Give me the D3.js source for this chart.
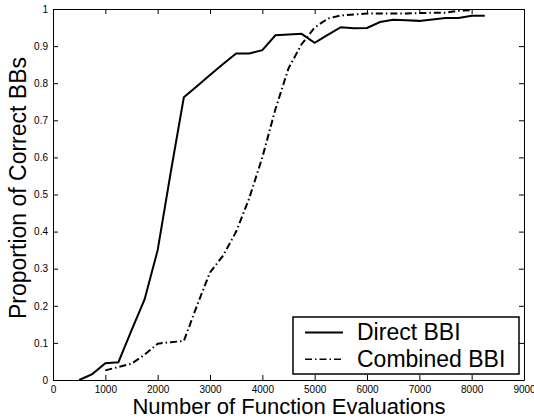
<!DOCTYPE html>
<html>
<head>
<meta charset="utf-8">
<script src="https://cdn.jsdelivr.net/npm/d3@7"></script>
<style>
  body { margin: 0; background: #fff; }
  text { font-family: "Liberation Sans", Arial, Helvetica, sans-serif; fill: #000; }
</style>
</head>
<body>
<div id="graph"></div>
<script>
// x values (function evaluations) and proportions
var directX = [500, 750, 1000, 1250, 1500, 1750, 2000, 2250, 2500, 2750, 3000, 3250, 3500, 3750, 4000, 4250, 4500, 4750, 5000, 5250, 5500, 5750, 6000, 6250, 6500, 6750, 7000, 7250, 7500, 7750, 8000, 8250];
var directY = [0, 0.016, 0.045, 0.048, 0.134, 0.217, 0.35, 0.56, 0.762, 0.792, 0.822, 0.852, 0.88, 0.88, 0.889, 0.929, 0.931, 0.933, 0.909, 0.93, 0.951, 0.948, 0.949, 0.965, 0.971, 0.970, 0.968, 0.972, 0.976, 0.976, 0.982, 0.982];

var combinedX = [1000, 1250, 1500, 1750, 2000, 2250, 2500, 2750, 3000, 3250, 3500, 3750, 4000, 4250, 4500, 4750, 5000, 5250, 5500, 5750, 6000, 6250, 6500, 6750, 7000, 7250, 7500, 7750, 8000];
var combinedY = [0.026, 0.035, 0.044, 0.068, 0.098, 0.102, 0.105, 0.20, 0.29, 0.335, 0.40, 0.49, 0.60, 0.73, 0.84, 0.905, 0.95, 0.974, 0.983, 0.985, 0.988, 0.988, 0.988, 0.988, 0.989, 0.99, 0.99, 0.995, 0.997];

var xTicks = [0, 1000, 2000, 3000, 4000, 5000, 6000, 7000, 8000, 9000];
var yTicks = [0, 0.1, 0.2, 0.3, 0.4, 0.5, 0.6, 0.7, 0.8, 0.9, 1];
var seriesNames = ['Direct BBI', 'Combined BBI'];

var width = 534, height = 420;
var margin = { top: 9, left: 53, bottom: 40, right: 10 };
var chartWidth = width - margin.left - margin.right;
var chartHeight = height - margin.top - margin.bottom;

var svg = d3.select('#graph').append('svg')
  .attr('width', width).attr('height', height);

var chartLayer = svg.append('g')
  .attr('transform', 'translate(' + [margin.left, margin.top] + ')');

var x = d3.scaleLinear().domain([0, 9000]).range([0, chartWidth]);
var y = d3.scaleLinear().domain([0, 1]).range([chartHeight, 0]);

function fmtY(d) { return (d === 0 || d === 1) ? d : d3.format('.1f')(d); }

// axes with inward ticks, MATLAB style box
var axisBottomG = chartLayer.append('g')
  .attr('transform', 'translate(0,' + chartHeight + ')')
  .call(d3.axisBottom(x).tickValues(xTicks).tickFormat(d3.format('d')).tickSizeInner(-5).tickSizeOuter(0).tickPadding(6));
var axisLeftG = chartLayer.append('g')
  .call(d3.axisLeft(y).tickValues(yTicks).tickFormat(fmtY).tickSizeInner(-5).tickSizeOuter(0).tickPadding(5));
var axisTopG = chartLayer.append('g')
  .call(d3.axisTop(x).tickValues(xTicks).tickFormat('').tickSizeInner(-5).tickSizeOuter(0));
var axisRightG = chartLayer.append('g')
  .attr('transform', 'translate(' + chartWidth + ',0)')
  .call(d3.axisRight(y).tickValues(yTicks).tickFormat('').tickSizeInner(-5).tickSizeOuter(0));

[axisBottomG, axisLeftG, axisTopG, axisRightG].forEach(function(a) {
  a.selectAll('path, line').attr('stroke', '#000').attr('stroke-width', 1);
  a.selectAll('text').style('font-size', '10px').style('font-family', '"Liberation Sans", Arial, sans-serif');
});

var line = d3.line()
  .x(function(d) { return x(d[0]); })
  .y(function(d) { return y(d[1]); });

chartLayer.append('path')
  .datum(d3.zip(directX, directY))
  .attr('d', line)
  .attr('fill', 'none')
  .attr('stroke', '#000')
  .attr('stroke-width', 2);

chartLayer.append('path')
  .datum(d3.zip(combinedX, combinedY))
  .attr('d', line)
  .attr('fill', 'none')
  .attr('stroke', '#000')
  .attr('stroke-width', 2)
  .attr('stroke-dasharray', '7,3,1.5,3');

// axis titles
svg.append('text')
  .attr('x', 289)
  .attr('y', 414)
  .attr('text-anchor', 'middle')
  .style('font-size', '22px')
  .text('Number of Function Evaluations');

svg.append('text')
  .attr('transform', 'translate(26,188) rotate(-90)')
  .attr('text-anchor', 'middle')
  .style('font-size', '23px')
  .text('Proportion of Correct BBs');

// legend
var legend = svg.append('g').attr('transform', 'translate(293,317)');
legend.append('rect')
  .attr('width', 226).attr('height', 57)
  .attr('fill', '#fff').attr('stroke', '#000').attr('stroke-width', 1.5);

var items = legend.selectAll('g.item')
  .data(seriesNames)
  .enter().append('g')
  .attr('class', 'item')
  .attr('transform', function(d, i) { return 'translate(0,' + (15.5 + i * 26.7) + ')'; });

items.append('line')
  .attr('x1', 12).attr('x2', 50)
  .attr('y1', 0).attr('y2', 0)
  .attr('stroke', '#000')
  .attr('stroke-width', function(d, i) { return i ? 1.5 : 2; })
  .attr('stroke-dasharray', function(d, i) { return i ? '7,3,1.5,3' : null; });

items.append('text')
  .attr('x', 64).attr('y', 7.5)
  .style('font-size', '23px')
  .text(function(d) { return d; });
</script>
</body>
</html>
